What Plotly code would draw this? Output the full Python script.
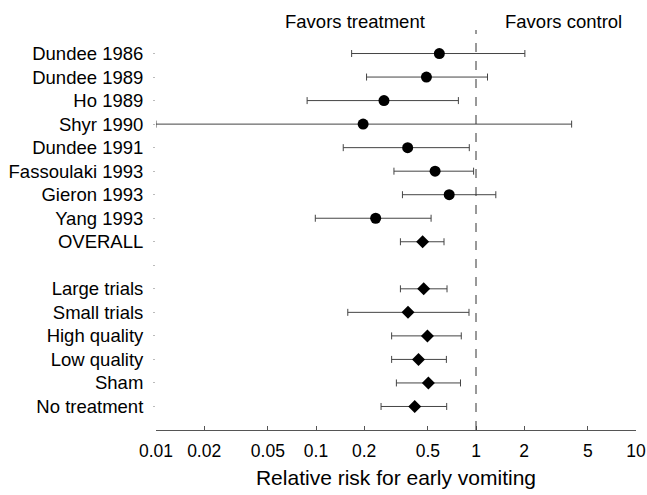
import plotly.graph_objects as go

study_labels = ["Dundee 1986", "Dundee 1989", "Ho 1989", "Shyr 1990", "Dundee 1991",
                "Fassoulaki 1993", "Gieron 1993", "Yang 1993"]
study_rr = [0.59, 0.49, 0.266, 0.197, 0.374, 0.555, 0.68, 0.236]
study_lo = [0.167, 0.207, 0.088, 0.01, 0.148, 0.307, 0.347, 0.099]
study_hi = [2.02, 1.18, 0.776, 3.96, 0.908, 0.966, 1.33, 0.524]

pooled_labels = ["OVERALL", "", "Large trials", "Small trials", "High quality",
                 "Low quality", "Sham", "No treatment"]
pooled_rr = [0.464, None, 0.471, 0.376, 0.497, 0.437, 0.504, 0.414]
pooled_lo = [0.337, None, 0.337, 0.158, 0.297, 0.297, 0.318, 0.255]
pooled_hi = [0.631, None, 0.659, 0.904, 0.809, 0.653, 0.80, 0.656]

x_ticks = [0.01, 0.02, 0.05, 0.1, 0.2, 0.5, 1, 2, 5, 10]
x_tick_text = ["0.01", "0.02", "0.05", "0.1", "0.2", "0.5", "1", "2", "5", "10"]

all_labels = study_labels + pooled_labels
rows = list(range(len(all_labels)))
study_rows = rows[:len(study_labels)]
pooled_rows = rows[len(study_labels):]

pr_rows = [r for r, v in zip(pooled_rows, pooled_rr) if v is not None]
pr_rr = [v for v in pooled_rr if v is not None]
pr_lo = [v for v in pooled_lo if v is not None]
pr_hi = [v for v in pooled_hi if v is not None]

FONT = "Liberation Sans, Arial, Helvetica, sans-serif"

fig = go.Figure()
fig.add_trace(go.Scatter(
    x=study_rr, y=study_rows, mode="markers",
    marker=dict(symbol="circle", size=11, color="black"),
    error_x=dict(type="data", symmetric=False,
                 array=[h - m for h, m in zip(study_hi, study_rr)],
                 arrayminus=[m - l for m, l in zip(study_rr, study_lo)],
                 color="#444444", thickness=1, width=3.5),
    showlegend=False, hoverinfo="skip"))
fig.add_trace(go.Scatter(
    x=pr_rr, y=pr_rows, mode="markers",
    marker=dict(symbol="diamond", size=10, color="black"),
    error_x=dict(type="data", symmetric=False,
                 array=[h - m for h, m in zip(pr_hi, pr_rr)],
                 arrayminus=[m - l for m, l in zip(pr_rr, pr_lo)],
                 color="#444444", thickness=1, width=3.5),
    showlegend=False, hoverinfo="skip"))

fig.add_shape(type="line", xref="x", yref="paper", x0=1, x1=1, y0=0, y1=1,
              line=dict(color="#333333", width=1, dash="dash"))

fig.add_annotation(text="Favors treatment", xref="paper", yref="paper",
                   x=(354.5 - 156) / 480, y=(430 - 22) / 400, xanchor="center", yanchor="middle",
                   showarrow=False, font=dict(family=FONT, size=18.5, color="black"))
fig.add_annotation(text="Favors control", xref="paper", yref="paper",
                   x=(563 - 156) / 480, y=(430 - 22) / 400, xanchor="center", yanchor="middle",
                   showarrow=False, font=dict(family=FONT, size=18.5, color="black"))

fig.update_layout(
    width=647, height=495,
    margin=dict(l=156, r=11, t=30, b=65),
    paper_bgcolor="white", plot_bgcolor="white",
    font=dict(family=FONT, color="black"),
    xaxis=dict(type="log", range=[-2, 1], tickvals=x_ticks, ticktext=x_tick_text,
               ticks="inside", ticklen=4, tickcolor="#555555", showline=True,
               linecolor="#555555", linewidth=1, showgrid=False, zeroline=False,
               automargin=False, ticklabelstandoff=5,
               tickfont=dict(family=FONT, size=17.5, color="black"),
               title=dict(text="Relative risk for early vomiting",
                          font=dict(family=FONT, size=21, color="black"), standoff=10)),
    yaxis=dict(range=[16, -1], tickvals=rows, ticktext=all_labels,
               ticks="outside", ticklen=2, tickcolor="#bbbbbb", showline=False,
               showgrid=False, zeroline=False, ticklabelstandoff=6, automargin=False,
               tickfont=dict(family=FONT, size=18.5, color="black")),
)

fig.write_html("out.html", config={"displayModeBar": False},
               post_script="document.body.style.margin='0px';")
